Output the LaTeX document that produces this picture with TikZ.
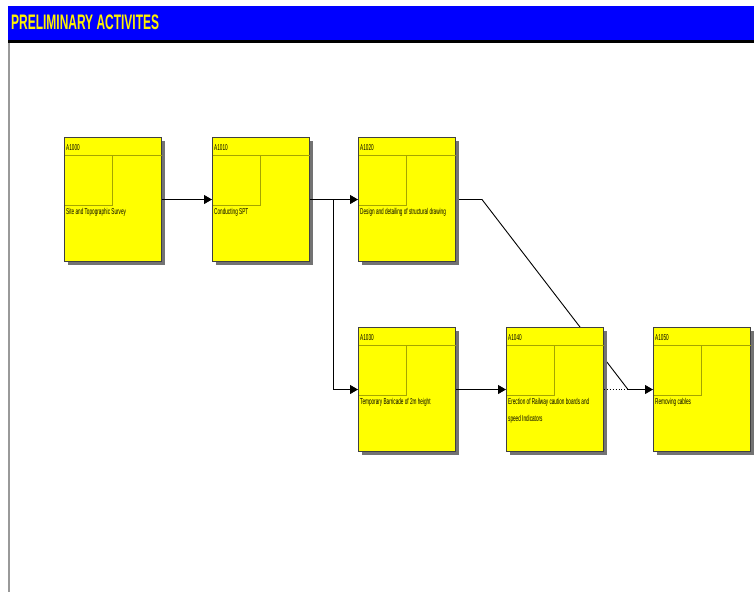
\documentclass[tikz,border=0pt]{standalone}
\usepackage{fontspec}
\newfontfamily\narrowfont[FakeStretch=0.55]{Liberation Sans}
\newfontfamily\titlefont[FakeStretch=0.57]{Liberation Sans}
\usetikzlibrary{calc, arrows.meta, positioning, shadows, backgrounds}
\definecolor{actyellow}{RGB}{255,255,0}
\definecolor{actline}{RGB}{165,165,0}
\definecolor{barblue}{RGB}{0,0,255}

\begin{document}
\begin{tikzpicture}[x=1pt, y=-1pt, font=\narrowfont\fontsize{8.5}{10}\selectfont,
  act/.style={draw=black!75, line width=1pt, fill=actyellow, minimum width=97pt, minimum height=124pt, inner sep=0pt,
    drop shadow={shadow xshift=3pt, shadow yshift=-3pt, fill=black!55, opacity=1}},
  idtext/.style={anchor=west, inner sep=1pt},
  desc/.style={anchor=north west, inner sep=1pt, align=left, font=\narrowfont\fontsize{8.5}{17}\selectfont},
  arr/.style={-{Triangle[length=8pt,width=9pt]}, line width=0.9pt},
  inner/.style={draw=actline, line width=0.8pt}]
\useasboundingbox (0,0) rectangle (754,592);
% title bar
\fill[barblue] (8,6) rectangle (754,40);
\fill[black] (8,40) rectangle (754,43);
\fill[black!40] (8,43) rectangle (10,592);
\node[anchor=west, inner sep=0pt, text=yellow, font=\titlefont\bfseries\fontsize{21}{22}\selectfont] (title) at (11,22) {PRELIMINARY ACTIVITES};
% activities
\node[act] (a1000) at (113,199.5) {};
\node[act, right=50pt of a1000] (a1010) {};
\node[act, right=48pt of a1010] (a1020) {};
\node[act, below=65pt of a1020] (a1030) {};
\node[act, right=50pt of a1030] (a1040) {};
\node[act, right=49pt of a1040] (a1050) {};
\foreach \b/\t/\d in {a1000/A1000/{Site and Topographic Survey}, a1010/A1010/{Conducting SPT},
  a1020/A1020/{Design and detailing of structural drawing}, a1030/A1030/{Temporary Barricade of 2m height},
  a1040/A1040/{Erection of Railway caution boards and\\speed Indicators}, a1050/A1050/{Removing cables}}{
  \draw[inner] ($(\b.north west)+(0.5,18.5)$) -- ($(\b.north east)+(-0.5,18.5)$);
  \draw[inner] ($(\b.north west)+(48,18.5)$) |- ($(\b.north west)+(0.5,68)$);
  \node[idtext] (\b-id) at ($(\b.north west)+(1,10.5)$) {\t};
  \node[desc] (\b-desc) at ($(\b.north west)+(1,70)$) {\d};
}
% links
\coordinate (split) at ($(a1010.east)+(23,0)$);
\coordinate (join) at ($(a1050.west)+(-25,0)$);
\draw[arr] (a1000.east) -- (a1010.west);
\draw[arr] (a1010.east) -- (a1020.west);
\draw[arr] (split) |- (a1030.west);
\draw[arr] (a1030.east) -- (a1040.west);
\draw[dotted, line width=0.9pt] (a1040.east) -- (join);
\begin{scope}[on background layer]
\draw[line width=0.9pt] (a1020.east) -- ++(26,0) -- (join);
\end{scope}
\draw[arr] (join) -- (a1050.west);
\end{tikzpicture}
\end{document}
